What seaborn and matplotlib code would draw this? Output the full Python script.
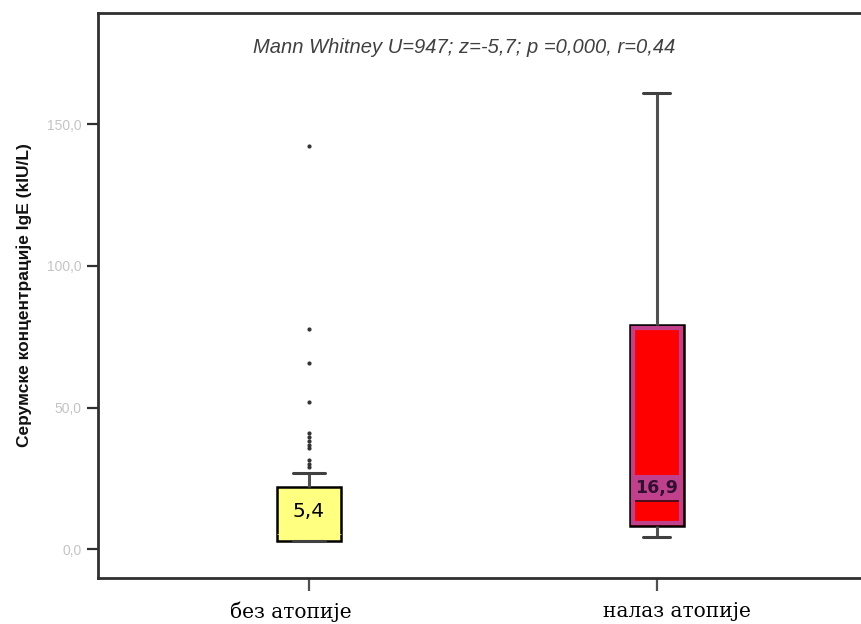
import numpy as np
import pandas as pd
import matplotlib
matplotlib.use("Agg")
import matplotlib.pyplot as plt
import matplotlib.transforms as mtransforms
from matplotlib.patches import Rectangle
import seaborn as sns

# groups and IgE values (kIU/L)
groups = ['без атопије', 'налаз атопије']
no_atopy = [2.9, 2.9, 2.9, 2.9, 2.9, 3.0, 3.0, 3.0, 3.0, 3.0, 3.0, 3.0, 3.0, 3.0,
            3.1, 3.2, 3.3, 3.5, 3.7, 3.9, 4.1, 4.4, 4.6, 4.9, 5.1, 5.3,
            5.4,
            6.0, 7.0, 8.2, 9.5, 11.0, 12.4, 13.8, 15.1, 16.5, 18.0, 19.6, 21.0,
            21.9,
            26.8,
            29.1, 30.3, 31.5, 35.6, 36.8, 38.3, 39.5, 40.9, 52.1, 65.6, 77.7, 142.3]
atopy = [4.2, 5.6, 7.0, 8.2, 11.0, 14.5, 16.9, 28.0, 52.0, 79.1, 98.0, 125.0, 160.9]
median_labels = ['5,4', '16,9']
y_ticks = [0, 50, 100, 150]
y_tick_labels = ['0,0', '50,0', '100,0', '150,0']
y_title = 'Серумске концентрације IgE (kIU/L)'
stat_text = 'Mann Whitney U=947; z=-5,7; p =0,000, r=0,44'

sns.set_theme(style='white')
plt.rcParams['font.family'] = ['Liberation Sans', 'DejaVu Sans']

df = pd.DataFrame({
    'group': [groups[0]] * len(no_atopy) + [groups[1]] * len(atopy),
    'ige': no_atopy + atopy,
})

yellow = '#ffff80'
red = '#ff0000'
purple = '#c0408c'

fig = plt.figure(figsize=(8.61, 6.24), dpi=100)
ax = fig.add_axes([0.1142, 0.0732, 0.8870, 0.9064])

common = dict(x='group', y='ige', order=groups, saturation=1, linecolor='black',
              linewidth=1.8, ax=ax,
              whiskerprops=dict(color='#505050', linewidth=2.2),
              capprops=dict(color='#404040', linewidth=2.2),
              flierprops=dict(marker='o', markersize=2.0, markerfacecolor='#333333',
                              markeredgecolor='#333333'))

sns.boxplot(data=df[df.group == groups[0]], color=yellow, width=0.185, whis=0.32,
            medianprops=dict(color=yellow, linewidth=0.5), **common)
sns.boxplot(data=df[df.group == groups[1]], color=red, width=0.155, whis=1.5,
            medianprops=dict(color='#301020', linewidth=1.2), **common)

# inner purple band of the second box
q1, q3 = np.percentile(atopy, [25, 75])
dx, dy = 3.2 / 348, 3.2 / 2.834
ax.add_patch(Rectangle((1 - 0.155 / 2 + dx, q1 + dy), 0.155 - 2 * dx, q3 - q1 - 2 * dy,
                       fill=False, edgecolor=purple, linewidth=3, zorder=2.5))

# median labels
ax.text(0, 13.3, median_labels[0], ha='center', va='center', fontsize=14.5,
        color='black', family=['DejaVu Sans'], zorder=5)
ax.text(1, 21.8, median_labels[1], ha='center', va='center', fontsize=12.5,
        color='#301030', fontweight='bold', family=['DejaVu Sans'], zorder=5,
        bbox=dict(boxstyle='square,pad=0.22', facecolor=purple, edgecolor='none'))

ax.text(0.479, 0.939, stat_text, transform=ax.transAxes, ha='center', va='center',
        fontsize=14.5, style='italic', color='#404040')

ax.set_xlim(-0.605, 1.59)
ax.set_ylim(-10.2, 189.3)
ax.set_yticks(y_ticks)
ax.set_yticklabels(y_tick_labels)
ax.set_xticks([0, 1])
ax.set_xticklabels(groups, family=['DejaVu Serif'], fontsize=14.5, color='black')
ax.set_xlabel('')
ax.set_ylabel(y_title, fontsize=12.5, fontweight='bold', color='#111111')
ax.yaxis.set_label_coords(-0.0974, 0.5)
ax.yaxis.label.set_va('center')

ax.tick_params(axis='y', which='major', left=True, length=8, width=1.6, color='#303030',
               labelsize=10, labelcolor='#c4c4c4', pad=4)
ax.tick_params(axis='x', which='major', bottom=True, length=9, width=1.6, color='#505050',
               pad=8)

# x tick labels sit slightly off their ticks in the reference
for lbl, shift in zip(ax.get_xticklabels(), [-18, 20]):
    lbl.set_transform(lbl.get_transform() + mtransforms.ScaledTranslation(shift / 100, 0, fig.dpi_scale_trans))

for side in ['left', 'bottom', 'top']:
    ax.spines[side].set_color('#303030')
    ax.spines[side].set_linewidth(2)
ax.spines['right'].set_visible(False)

fig.savefig('out.png', dpi=100)
